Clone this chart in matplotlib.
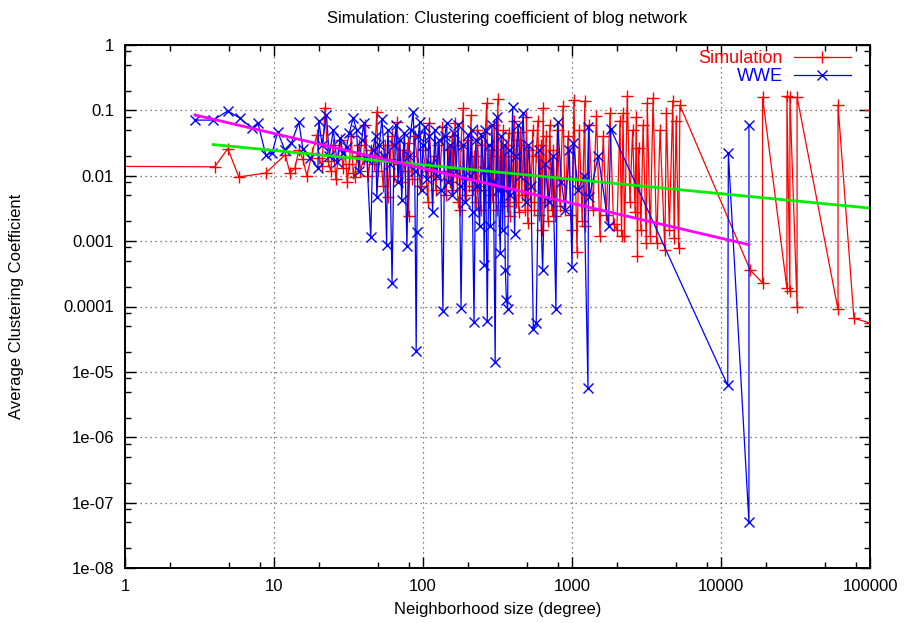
import matplotlib

matplotlib.use("Agg")

import matplotlib.pyplot as plt
from matplotlib.ticker import FixedLocator, NullFormatter

plt.rcParams["font.family"] = ["Liberation Sans", "DejaVu Sans"]

# Simulation series (degree, clustering coefficient), in data order
sim_x = [
    0.5, 4, 4.9, 5.8, 8.8, 11.9, 12.8, 13.8, 14.7, 15.6, 16.6, 18, 19.4, 20, 21,
    22, 23, 24, 25, 26, 27, 28, 29, 30, 31, 32, 33, 34, 35, 36, 37, 38, 40, 41,
    43, 45, 47, 49, 50, 52, 54, 56, 58, 60, 62, 64, 67, 69, 71, 73, 76, 79, 80,
    82, 85, 88, 92, 96, 100, 104, 108, 110, 114, 118, 122, 126, 130, 135, 139,
    143, 147, 152, 157, 160, 164, 168, 172, 177, 180, 186, 190, 195, 200, 205,
    210, 215, 220, 226, 232, 238, 244, 250, 256, 262, 268, 272, 278, 285, 292,
    300, 306, 312, 318, 324, 330, 338, 345, 352, 360, 368, 375, 383, 392, 400,
    410, 420, 430, 440, 450, 460, 472, 485, 495, 505, 518, 530, 545, 560, 575,
    590, 605, 620, 630, 640, 655, 670, 690, 710, 730, 750, 770, 800, 830, 870,
    900, 940, 980, 1000, 1030, 1080, 1120, 1170, 1220, 1230, 1300, 1380, 1460,
    1540, 1620, 1700, 1800, 1900, 2000, 2100, 2150, 2200, 2250, 2350, 2450,
    2550, 2650, 2700, 2750, 2800, 2900, 3000, 3150, 3200, 3350, 3500, 3700,
    3900, 4200, 4300, 4500, 4750, 4850, 5000, 5200, 5300, 15700, 19000, 19000,
    27700, 27700, 29000, 29000, 32400, 32400, 61000, 61000, 78000, 100000,
    100000,
]
sim_y = [
    0.014, 0.0137, 0.026, 0.0096, 0.011, 0.021, 0.011, 0.013, 0.025, 0.018,
    0.010, 0.022, 0.042, 0.019, 0.014, 0.11, 0.017, 0.012, 0.03, 0.009, 0.02,
    0.035, 0.013, 0.025, 0.008, 0.015, 0.04, 0.011, 0.0096, 0.02, 0.03, 0.012,
    0.018, 0.06, 0.01, 0.025, 0.015, 0.095, 0.012, 0.02, 0.007, 0.03, 0.0048,
    0.018, 0.04, 0.01, 0.066, 0.015, 0.008, 0.025, 0.012, 0.032, 0.0024, 0.02,
    0.009, 0.04, 0.015, 0.007, 0.025, 0.012, 0.004, 0.064, 0.01, 0.02, 0.006,
    0.03, 0.009, 0.056, 0.012, 0.005, 0.025, 0.008, 0.04, 0.006, 0.064, 0.01,
    0.004, 0.003, 0.03, 0.108, 0.009, 0.005, 0.035, 0.007, 0.085, 0.006, 0.02,
    0.004, 0.05, 0.007, 0.003, 0.03, 0.006, 0.045, 0.13, 0.008, 0.004, 0.025,
    0.005, 0.06, 0.009, 0.003, 0.15, 0.007, 0.02, 0.004, 0.05, 0.006, 0.03,
    0.0035, 0.045, 0.0024, 0.02, 0.006, 0.07, 0.004, 0.035, 0.0028, 0.047,
    0.005, 0.03, 0.003, 0.08, 0.0019, 0.025, 0.004, 0.05, 0.003, 0.02, 0.07,
    0.0025, 0.03, 0.0015, 0.11, 0.004, 0.04, 0.002, 0.06, 0.003, 0.025, 0.0024,
    0.05, 0.0035, 0.117, 0.003, 0.04, 0.0025, 0.0015, 0.144, 0.00068, 0.05,
    0.002, 0.14, 0.0017, 0.06, 0.003, 0.082, 0.0012, 0.04, 0.0025, 0.09,
    0.0018, 0.0015, 0.07, 0.0012, 0.09, 0.0012, 0.166, 0.004, 0.05, 0.0028,
    0.08, 0.0006, 0.027, 0.0015, 0.06, 0.00095, 0.13, 0.0012, 0.155, 0.00095,
    0.05, 0.00073, 0.09, 0.0015, 0.14, 0.0011, 0.07, 0.00078, 0.12, 0.00036,
    0.00023, 0.16, 0.00019, 0.165, 0.00017, 0.16, 0.0001, 0.16, 0.00009, 0.12,
    0.000066, 0.000056, 0.1,
]

# WWE series (degree, clustering coefficient), in data order
wwe_x = [
    2.95, 3.9, 4.9, 5.9, 7.1, 7.8, 8.8, 9.7, 10.6, 11.8, 13.1, 14.7, 15.6, 17.4,
    19.7, 20, 21, 22.5, 23.5, 25, 26.5, 27.8, 29, 30.7, 32, 34, 35.8, 37, 38.8,
    40, 42, 44.6, 46, 48, 49, 51, 53, 55, 57, 58, 60, 62, 64, 66, 68, 70, 72,
    75, 78, 80, 83, 86, 88, 90, 91, 93, 95, 98, 100, 103, 106, 110, 113, 116,
    120, 124, 128, 132, 136, 140, 144, 148, 152, 157, 162, 167, 172, 176, 180,
    186, 192, 200, 206, 212, 215, 220, 226, 232, 240, 247, 255, 257, 262, 270,
    277, 283, 290, 297, 305, 312, 320, 330, 335, 342, 350, 357, 363, 370, 375,
    385, 400, 412, 420, 435, 450, 470, 490, 510, 530, 550, 575, 600, 635, 660,
    700, 740, 780, 800, 850, 900, 960, 1000, 1020, 1100, 1200, 1280, 1290,
    1310, 1500, 1760, 1820, 11100, 11200, 15400, 15400,
]
wwe_y = [
    0.071, 0.071, 0.098, 0.076, 0.054, 0.064, 0.021, 0.022, 0.047, 0.025,
    0.032, 0.066, 0.026, 0.019, 0.013, 0.07, 0.03, 0.085, 0.02, 0.05, 0.016,
    0.038, 0.022, 0.028, 0.045, 0.077, 0.05, 0.012, 0.035, 0.065, 0.018,
    0.00115, 0.025, 0.04, 0.0048, 0.03, 0.075, 0.02, 0.00088, 0.05, 0.015,
    0.00023, 0.03, 0.06, 0.008, 0.035, 0.0043, 0.045, 0.00084, 0.02, 0.05,
    0.095, 0.012, 0.000021, 0.0014, 0.04, 0.066, 0.006, 0.03, 0.055, 0.009,
    0.04, 0.015, 0.0028, 0.05, 0.01, 0.035, 0.006, 0.000084, 0.04, 0.064,
    0.008, 0.03, 0.005, 0.045, 0.012, 0.06, 0.007, 0.000096, 0.03, 0.004,
    0.042, 0.01, 0.05, 0.0028, 0.000058, 0.035, 0.007, 0.0017, 0.04, 0.012,
    0.00043, 0.05, 0.00006, 0.03, 0.0017, 0.06, 0.008, 0.000014, 0.08, 0.006,
    0.00066, 0.04, 0.0015, 0.03, 0.00036, 0.000126, 0.000093, 0.025, 0.005,
    0.113, 0.0013, 0.02, 0.06, 0.01, 0.092, 0.004, 0.03, 0.007, 0.000046,
    0.000056, 0.025, 0.00036, 0.015, 0.004, 0.02, 0.000092, 0.066, 0.008,
    0.003, 0.025, 0.0004, 0.032, 0.006, 0.01, 0.0000057, 0.056, 0.0048, 0.02,
    0.0017, 0.052, 0.0000062, 0.022, 0.00000005, 0.06,
]

# power-law fits, end points
fit_sim_x = [3.9, 100000]
fit_sim_y = [0.030, 0.0032]
fit_wwe_x = [2.95, 15400]
fit_wwe_y = [0.085, 0.00088]

x_ticks = [1, 10, 100, 1000, 10000, 100000]
x_labels = ["1", "10", "100", "1000", "10000", "100000"]
y_ticks = [1e-8, 1e-7, 1e-6, 1e-5, 1e-4, 1e-3, 1e-2, 1e-1, 1]
y_labels = ["1e-08", "1e-07", "1e-06", "1e-05", "0.0001", "0.001", "0.01", "0.1", "1"]


def minor_positions(lo, hi):
    out = []
    e = lo
    while e < hi:
        for m in (2, 5, 8):
            out.append(m * 10.0**e)
        e += 1
    return out


fig = plt.figure(figsize=(9.05, 6.23), dpi=100)
ax = fig.add_axes([125 / 905, 1 - 568 / 623, 745 / 905, 523 / 623])

ax.plot(sim_x, sim_y, color="#ff0000", lw=0.9, marker="+", ms=8, mew=1.0,
        label="Simulation")
ax.plot(wwe_x, wwe_y, color="#0000ff", lw=0.9, marker="x", ms=7, mew=1.0,
        label="WWE")
ax.plot(fit_sim_x, fit_sim_y, color="#00ee00", lw=2)
ax.plot(fit_wwe_x, fit_wwe_y, color="#ff00ff", lw=2)

ax.set_xscale("log")
ax.set_yscale("log")
ax.set_xlim(1, 100000)
ax.set_ylim(1e-8, 1)

ax.xaxis.set_major_locator(FixedLocator(x_ticks))
ax.set_xticklabels(x_labels)
ax.yaxis.set_major_locator(FixedLocator(y_ticks))
ax.set_yticklabels(y_labels)
ax.xaxis.set_minor_locator(FixedLocator(minor_positions(0, 5)))
ax.yaxis.set_minor_locator(FixedLocator(minor_positions(-8, 0)))
ax.xaxis.set_minor_formatter(NullFormatter())
ax.yaxis.set_minor_formatter(NullFormatter())

ax.tick_params(which="both", direction="in", top=True, right=True,
               labelsize=12, width=1.0, color="black")
ax.tick_params(which="major", length=8, pad=8)
ax.tick_params(which="minor", length=4)
ax.grid(True, which="major", color="#555555", linestyle=(0, (1, 3)), lw=0.9)
for sp in ax.spines.values():
    sp.set_linewidth(1.4)

ax.set_xlabel("Neighborhood size (degree)", fontsize=12, labelpad=6)
ax.set_ylabel("Average Clustering Coefficient", fontsize=12, labelpad=28)
fig.text(507 / 905, 1 - 18 / 623, "Simulation: Clustering coefficient of blog network",
         ha="center", va="center", fontsize=12)

ax.legend(loc="upper right", bbox_to_anchor=(0.975, 0.99), frameon=False,
          markerfirst=False, labelcolor="linecolor", fontsize=13,
          handlelength=3.2, handletextpad=0.6, labelspacing=0.05,
          borderpad=0, borderaxespad=0)

fig.savefig("out.png", dpi=100)
